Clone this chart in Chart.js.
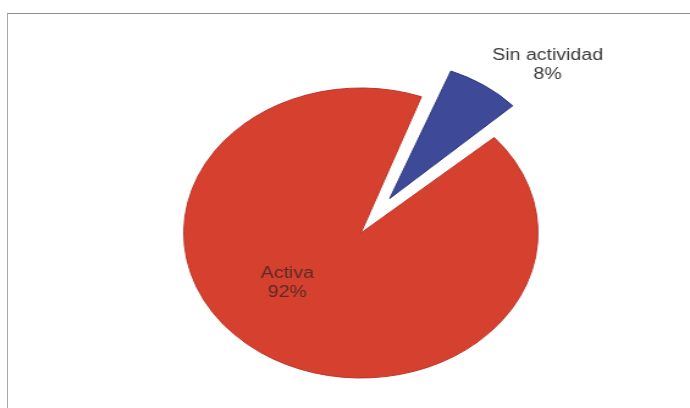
<!DOCTYPE html>
<html>
<head>
<meta charset="utf-8">
<script src="https://cdn.jsdelivr.net/npm/chart.js"></script>
<style>
    body {
        margin: 0;
        padding: 0;
        background: #ffffff;
        overflow: hidden;
    }
    #wrap {
        position: relative;
        width: 690px;
        height: 408px;
    }
    /* frame of the chart sheet, only top and left edges fall inside the window */
    #frame {
        position: absolute;
        left: 7px;
        top: 13px;
        width: 720px;
        height: 440px;
        border-top: 1px solid #8f8f8f;
        border-left: 1px solid #a8a8a8;
    }
    #pie {
        position: absolute;
        left: 0;
        top: 0;
    }
</style>
</head>
<body>
<div id="wrap">
    <div id="frame"></div>
    <!-- drawn narrow and widened by the inline size, so the pie comes out oval -->
    <canvas id="pie" width="565" height="408" style="width: 690px; height: 408px;"></canvas>
</div>
<script>
    // Slices, in drawing order starting from the rotation angle
    const categories = ['Sin actividad', 'Activa'];
    const shares = [8, 92];
    const shareLabels = ['8%', '92%'];

    const sliceColors = ['#3e4997', '#d6412f'];
    const sliceEdges = ['#2f3980', '#bd3326'];

    // Label placement around each slice: angle clockwise from top (deg), distance in radii
    const labelPlacement = [
        { angle: 42.2, dist: 1.57, color: '#3b3b3b' },
        { angle: 230.3, dist: 0.54, color: '#5a2a24' }
    ];

    // An exploded slice is drawn a bit smaller than the rest of the pie
    const explodedSize = 0.945;

    const shrinkExploded = {
        id: 'shrinkExploded',
        afterDatasetUpdate(chart, args) {
            args.meta.data.forEach(arc => {
                const off = (arc.options.offset || 0) / 4;
                if (!off) return;
                // v4 grows the outer radius of an offset arc, take that back out
                const fix = 1 - Math.sin(Math.min(Math.PI, arc.circumference));
                arc.outerRadius = arc.outerRadius * explodedSize - off * fix;
            });
        }
    };

    // Writes category and percentage on two lines next to each arc
    const sliceLabels = {
        id: 'sliceLabels',
        afterDatasetsDraw(chart) {
            const ctx = chart.ctx;
            const arcs = chart.getDatasetMeta(0).data;
            const radius = chart.options.radius;
            ctx.save();
            ctx.font = '16px "Liberation Sans", Arial, sans-serif';
            ctx.textAlign = 'center';
            ctx.textBaseline = 'middle';
            arcs.forEach((arc, i) => {
                const p = labelPlacement[i];
                const a = p.angle * Math.PI / 180;
                const r = radius * p.dist;
                const x = arc.x + Math.sin(a) * r;
                const y = arc.y - Math.cos(a) * r;
                ctx.fillStyle = p.color;
                ctx.fillText(categories[i], x, y - 9);
                ctx.fillText(shareLabels[i], x, y + 10);
            });
            ctx.restore();
        }
    };

    const ctx = document.getElementById('pie').getContext('2d');
    new Chart(ctx, {
        type: 'pie',
        data: {
            labels: categories,
            datasets: [{
                data: shares,
                backgroundColor: sliceColors,
                borderColor: sliceEdges,
                borderWidth: 1,
                offset: [167, 0] // pulls the small slice out of the pie
            }]
        },
        options: {
            responsive: false,
            animation: false,
            events: [],
            rotation: 20,
            radius: 145,
            layout: {
                padding: { left: 26, right: 0, top: 58, bottom: 0 }
            },
            plugins: {
                legend: { display: false },
                tooltip: { enabled: false }
            }
        },
        plugins: [shrinkExploded, sliceLabels]
    });
</script>
</body>
</html>
